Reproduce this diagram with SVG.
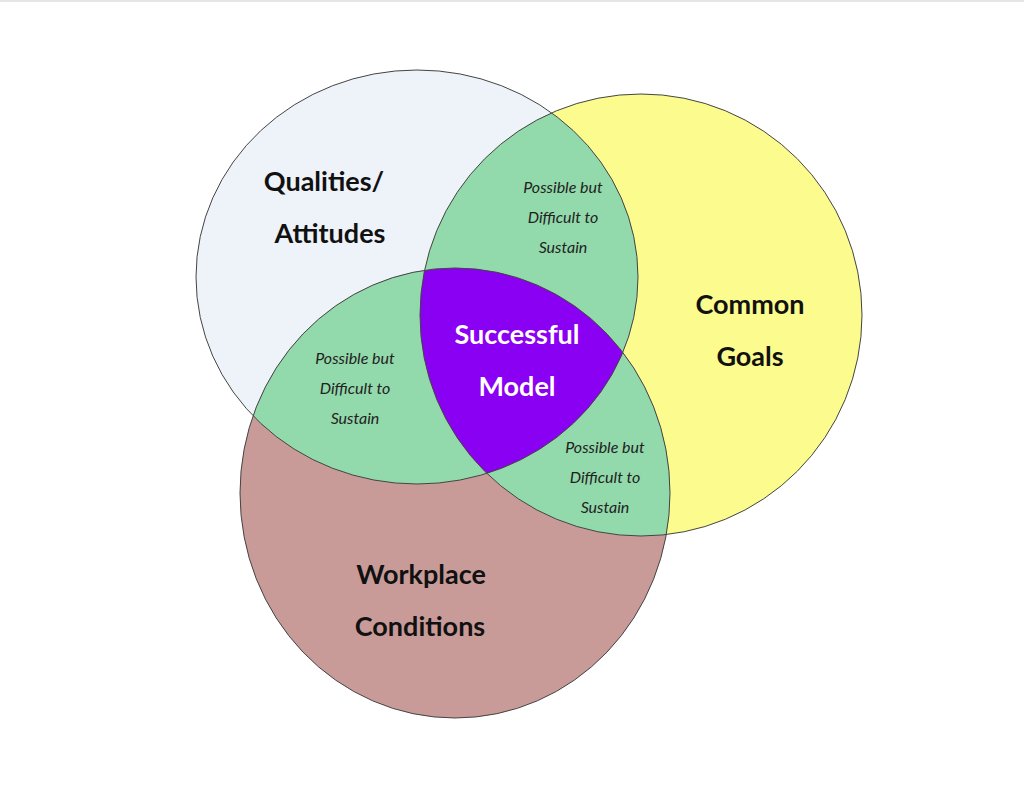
<svg xmlns="http://www.w3.org/2000/svg" width="1024" height="791" viewBox="0 0 1024 791">
<style>
.big{font-family:Lato,"Open Sans",sans-serif;font-weight:bold;font-size:27px;fill:#111;text-anchor:middle}
.sm{font-family:Lato,"Open Sans",sans-serif;font-style:italic;font-size:16px;fill:#222;text-anchor:middle}
.w{fill:#fff}
.ol{fill:none;stroke:#444;stroke-width:1}
</style>
<defs>
<clipPath id="cA"><ellipse cx="417" cy="277" rx="221" ry="207"/></clipPath>
<clipPath id="cB"><ellipse cx="641" cy="315" rx="221" ry="221"/></clipPath>
</defs>
<rect width="1024" height="791" fill="#fff"/>
<line x1="0" y1="1" x2="1024" y2="1" stroke="#ccc"/>
<g id="qualities"><ellipse cx="417" cy="277" rx="221" ry="207" fill="#eef2f9"/></g>
<g id="goals"><ellipse cx="641" cy="315" rx="221" ry="221" fill="#fbfb8e"/></g>
<g id="workplace"><ellipse cx="455" cy="493" rx="215" ry="225" fill="#c99b98"/></g>
<g id="overlaps">
<g clip-path="url(#cA)"><ellipse cx="641" cy="315" rx="221" ry="221" fill="#92d9ab"/><ellipse cx="455" cy="493" rx="215" ry="225" fill="#92d9ab"/></g>
<g clip-path="url(#cB)"><ellipse cx="455" cy="493" rx="215" ry="225" fill="#92d9ab"/></g>
<g clip-path="url(#cA)"><g clip-path="url(#cB)"><ellipse cx="455" cy="493" rx="215" ry="225" fill="#8a00f2"/></g></g>
</g>
<g id="outlines">
<ellipse cx="417" cy="277" rx="221" ry="207" class="ol" stroke="#5577a0"/>
<ellipse cx="641" cy="315" rx="221" ry="221" class="ol"/>
<ellipse cx="455" cy="493" rx="215" ry="225" class="ol"/>
</g>
<text class="big" x="324" y="191">Qualities/</text>
<text class="big" x="330" y="243">Attitudes</text>
<text class="big" x="750" y="314">Common</text>
<text class="big" x="750" y="366">Goals</text>
<text class="big" x="421" y="584">Workplace</text>
<text class="big" x="420" y="636">Conditions</text>
<text class="big w" x="517" y="344" font-size="23">Successful</text>
<text class="big w" x="517" y="396" font-size="23">Model</text>
<text class="sm" x="563" y="193">Possible but</text>
<text class="sm" x="563" y="223">Difficult to</text>
<text class="sm" x="563" y="253">Sustain</text>
<text class="sm" x="355" y="364">Possible but</text>
<text class="sm" x="355" y="394">Difficult to</text>
<text class="sm" x="355" y="424">Sustain</text>
<text class="sm" x="605" y="453">Possible but</text>
<text class="sm" x="605" y="483">Difficult to</text>
<text class="sm" x="605" y="513">Sustain</text>
</svg>
